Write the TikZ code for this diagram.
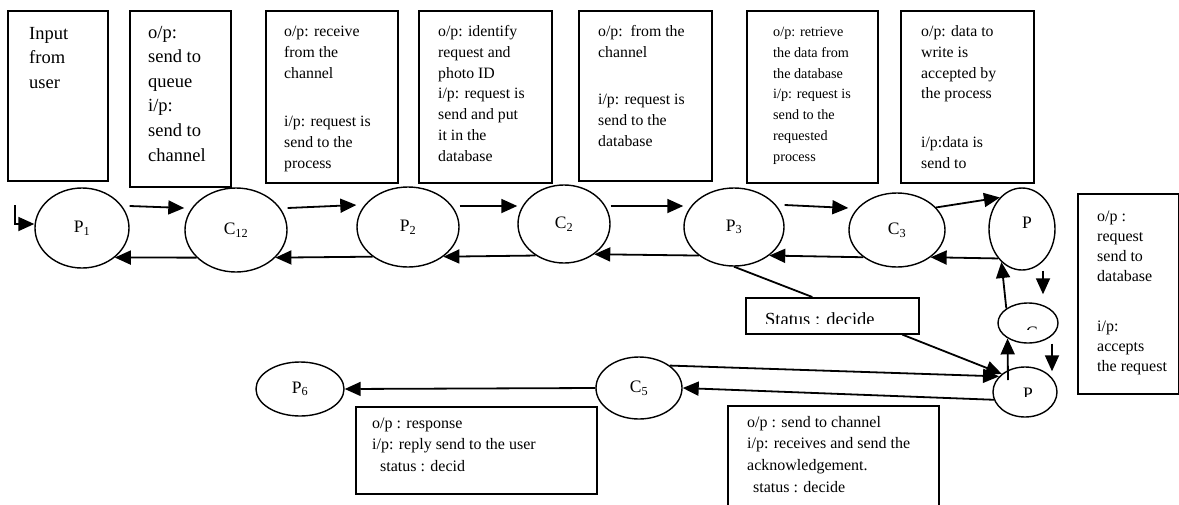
\documentclass[tikz,border=0pt]{standalone}
\usepackage{fontspec}
\setmainfont{Liberation Serif}
\usetikzlibrary{arrows.meta,shapes.geometric,calc}
\newcommand{\boxtext}[1]{\parbox[t]{200pt}{#1}}

\tikzset{
  box/.style={draw, line width=1.6pt, inner sep=0pt, anchor=north west},
  proc/.style={draw, ellipse, line width=1.4pt, inner sep=0pt, font=\fontsize{17.5}{21}\selectfont},
  arr/.style={line width=1.8pt, -{Triangle[length=16pt,width=14pt]}},
  note/.style={anchor=base west, inner sep=0pt},
  fbig/.style={font=\fontsize{18.5}{24.6}\selectfont},
  fmid/.style={font=\fontsize{15.8}{20.8}\selectfont},
  flow/.style={font=\fontsize{16}{21.7}\selectfont},
}

\begin{document}
\begin{tikzpicture}[x=1pt,y=-1pt]
  \useasboundingbox (0,0) rectangle (1179,504);
  \clip (0,0) rectangle (1179,504);
  % 上方文本框
  \node[box, minimum width=100pt, minimum height=170pt] (b1) at (7,10) {};
  \node[box, minimum width=101pt, minimum height=176pt] (b2) at (129,10) {};
  \node[box, minimum width=132pt, minimum height=172pt] (b3) at (265,10) {};
  \node[box, minimum width=133pt, minimum height=172pt] (b4) at (418,10) {};
  \node[box, minimum width=133pt, minimum height=170pt] (b5) at (578,10) {};
  \node[box, minimum width=131pt, minimum height=172pt] (b6) at (746,10) {};
  \node[box, minimum width=133pt, minimum height=172pt] (b7) at (900,10) {};
  \node[note, fbig] at ($(b1.north west)+(22,29)$) {\boxtext{Input\\from\\user}};
  \node[note, fbig] at ($(b2.north west)+(19,28)$) {\boxtext{o/p:\\send to\\queue\\i/p:\\send to\\channel}};
  \node[note, fmid] at ($(b3.north west)+(19,26.5)$) {\boxtext{o/p: receive\\from the\\channel\\[27.6pt]i/p: request is\\send to the\\process}};
  \node[note, fmid] at ($(b4.north west)+(20,26.5)$) {\boxtext{o/p: identify\\request and\\photo ID\\i/p: request is\\send and put\\it in the\\database}};
  \node[note, fmid] at ($(b5.north west)+(20,26.5)$) {\boxtext{o/p:\ \ from the\\channel\\[26.4pt]i/p: request is\\send to the\\database}};
  \node[note, font=\fontsize{14.2}{20.8}\selectfont] at ($(b6.north west)+(27,26.5)$) {\boxtext{o/p: retrieve\\the data from\\the database\\i/p: request is\\send to the\\requested\\process}};
  \node[note, fmid] at ($(b7.north west)+(21,26.5)$) {\boxtext{o/p: data to\\write is\\accepted by\\the process\\[27.8pt]i/p:data is\\send to}};
  % 右侧与下方文本框
  \node[box, minimum width=101pt, minimum height=200pt] (rb) at (1077,193) {};
  \node[note, font=\fontsize{16}{20}\selectfont] at ($(rb.north west)+(20,28)$) {\boxtext{o/p :\\request\\send to\\database\\[30pt]i/p:\\accepts\\the request}};
  \node[box, minimum width=241pt, minimum height=87pt] (bl) at (355,406) {};
  \node[note, flow] at ($(bl.north west)+(17,22)$) {\boxtext{o/p : response\\i/p: reply send to the user\\\hspace*{8pt}status : decid}};
  \node[box, minimum width=211pt, minimum height=130pt] (br) at (727,405) {};
  \node[note, flow] at ($(br.north west)+(20,22)$) {\boxtext{o/p : send to channel\\i/p: receives and send the\\acknowledgement.\\\hspace*{6pt}status : decide}};
  \node[box, minimum width=173pt, minimum height=36pt] (st) at (745,297) {};
  \begin{scope}
    \clip (st.north west) rectangle ([yshift=11pt]st.south east);
    \node[note, font=\fontsize{18.5}{22}\selectfont] at ($(st.north west)+(20,28)$) {Status : decide};
  \end{scope}
  % 进程与通道
  \node[proc, minimum width=94pt, minimum height=80pt] (P1) at (82,228) {P\textsubscript{1}};
  \node[proc, minimum width=102pt, minimum height=84pt] (C12) at (236,230) {C\textsubscript{12}};
  \node[proc, minimum width=102pt, minimum height=80pt] (P2) at (408,227) {P\textsubscript{2}};
  \node[proc, minimum width=92pt, minimum height=78pt] (C2) at (564,224) {C\textsubscript{2}};
  \node[proc, minimum width=100pt, minimum height=78pt] (P3) at (734,227) {P\textsubscript{3}};
  \node[proc, minimum width=96pt, minimum height=74pt] (C3) at (897,230) {C\textsubscript{3}};
  \node[proc, minimum width=66pt, minimum height=82pt] (P4) at (1022,229) {};
  \node[proc, minimum width=60pt, minimum height=40pt] (C4) at (1028,323) {};
  \node[proc, minimum width=64pt, minimum height=50pt] (P5) at (1025,392) {};
  \node[proc, minimum width=86pt, minimum height=62pt] (C5) at (639,388) {C\textsubscript{5}};
  \node[proc, minimum width=88pt, minimum height=54pt] (P6) at (300,389) {P\textsubscript{6}};
  \node[inner sep=0pt, font=\fontsize{17.5}{21}\selectfont] at ([xshift=5pt,yshift=6pt]P4.center) {P};
  \begin{scope}
    \clip (C4.north west) rectangle ([yshift=-6pt]C4.east);
    \node[anchor=base, inner sep=0pt, font=\fontsize{17.5}{21}\selectfont] at ([xshift=4pt,yshift=-15pt]C4.center) {C};
  \end{scope}
  \begin{scope}
    \clip (P5.north west) rectangle ([yshift=-4pt]P5.east);
    \node[anchor=base, inner sep=0pt, font=\fontsize{17.5}{21}\selectfont] at ([xshift=3pt,yshift=-7pt]P5.center) {P};
  \end{scope}
  % 连线
  \coordinate (in) at (15,205);
  \draw[arr] (in) |- ([yshift=4pt]P1.west);
  \draw[arr] ([yshift=22pt]P1.east) -- ([yshift=22pt]C12.west);
  \draw[arr] ([yshift=22pt]C12.east) -- ([yshift=22pt]P2.west);
  \draw[arr] ([yshift=21pt]P2.east) -- ([yshift=18pt]C2.west);
  \draw[arr] ([yshift=18pt]C2.east) -- ([yshift=21pt]P3.west);
  \draw[arr] ([yshift=22pt]P3.east) -- ([yshift=22pt]C3.west);
  \draw[arr] (C3.30) -- (P4.125);
  \draw[arr] (C12.215) -- (P1.-42);
  \draw[arr] (P2.220) -- (C12.-35);
  \draw[arr] (C2.228) -- (P2.-40);
  \draw[arr] (P3.219) -- (C2.-45);
  \draw[arr] (C3.219) -- (P3.-39);
  \draw[arr] (P4.231) -- (C3.-39);
  \draw[arr] ([xshift=21pt]P4.south) -- ([xshift=15pt,yshift=8pt]C4.north);
  \draw[arr] (C4.146) -- (P4.238);
  \draw[arr] ([xshift=24pt]C4.south) -- ([xshift=27pt,yshift=-5pt]P5.north);
  \draw[arr] ([shift={(-17pt,12pt)}]P5.center) -- (C4.217);
  \draw[line width=1.8pt] (P3.south) -- ([xshift=-20pt]st.north);
  \draw[arr] ([xshift=70pt]st.south) -- (P5.142);
  \draw[arr] (C5.36) -- (P5.149);
  \draw[arr] (P5.194) -- (C5.east);
  \draw[arr] (C5.west) -- (P6.east);
\end{tikzpicture}
\end{document}
